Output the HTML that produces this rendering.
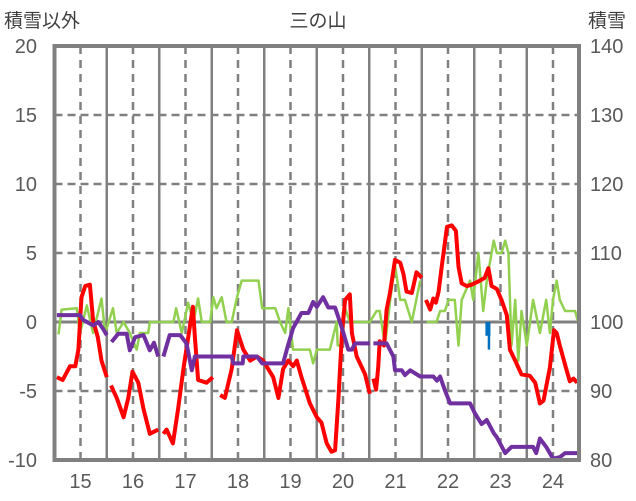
<!DOCTYPE html>
<html><head><meta charset="utf-8"><style>
html,body{margin:0;padding:0;background:#fff;}
svg{display:block;font-family:"Liberation Sans","Noto Sans CJK JP",sans-serif;}
</style></head><body>
<svg id="chart" width="636" height="501" viewBox="0 0 636 501" xmlns="http://www.w3.org/2000/svg">
<text x="4" y="27" font-size="19" fill="#404040">積雪以外</text>
<text x="318" y="27" font-size="19" fill="#404040" text-anchor="middle">三の山</text>
<text x="588" y="27" font-size="19" fill="#404040">積雪</text>
<g id="grid"></g><g id="series"></g><g id="frame"></g><g id="labels"></g>
</svg>
<script>
const dayTicks=[15,16,17,18,19,20,21,22,23,24];
const leftTicks=[-10,-5,0,5,10,15,20];
const rightTicks=[80,90,100,110,120,130,140];
const redT=[14.55,14.66,14.80,14.90,14.96,15.02,15.09,15.18,15.24,15.33,15.40,15.50,null,15.58,15.69,15.82,15.91,15.99,16.10,16.20,16.32,16.48,null,16.58,16.64,16.76,16.86,16.96,17.14,17.18,17.24,17.40,17.52,null,17.66,17.75,17.88,17.98,18.10,18.23,18.36,18.48,18.67,18.77,18.86,18.96,19.05,19.12,19.21,19.37,19.50,19.59,19.69,19.78,19.85,19.91,19.98,20.04,20.13,20.17,20.26,20.36,20.42,20.51,null,20.58,20.63,20.67,20.70,20.78,20.83,20.90,20.99,21.09,21.15,21.21,21.31,21.40,21.50,null,21.58,21.66,21.72,21.77,21.82,21.88,21.98,22.07,22.15,22.20,22.26,22.36,22.45,22.61,22.70,22.77,22.83,22.93,23.02,23.12,23.18,23.28,23.40,23.56,23.66,23.75,23.82,23.94,24.02,24.07,24.13,24.23,24.32,24.39,24.46];
const redV=[-4.0,-4.2,-3.2,-3.2,-2.0,1.8,2.6,2.7,0.1,-1.1,-2.8,-4.0,null,-4.6,-5.5,-6.9,-5.5,-3.6,-4.4,-6.3,-8.1,-7.8,null,-8.1,-7.8,-8.8,-6.3,-3.4,1.1,-1.1,-4.2,-4.4,-4.0,null,-5.3,-5.5,-3.4,-0.6,-2.0,-2.8,-2.5,-2.8,-4.0,-5.5,-3.4,-2.8,-3.2,-2.8,-4.0,-5.9,-6.9,-7.3,-8.8,-9.4,-9.3,-5.7,-0.8,1.6,2.0,-0.8,-2.5,-3.3,-3.8,-5.2,null,-4.1,-4.9,-3.3,-1.4,-1.7,0.9,2.2,4.5,4.3,3.5,2.2,2.1,3.6,3.2,null,1.6,0.9,1.7,1.4,2.2,4.0,6.9,7.0,6.6,4.0,2.8,2.6,2.7,3.0,3.2,3.9,2.6,2.4,1.6,0.5,-2.0,-2.8,-3.8,-3.9,-4.4,-5.9,-5.7,-3.3,-0.6,-0.8,-1.7,-3.1,-4.3,-4.1,-4.4];
const greenT=[14.58,14.64,14.93,14.99,15.12,15.24,15.40,15.47,15.62,15.69,15.82,15.94,16.07,16.13,16.29,16.32,16.77,16.82,16.93,17.05,17.15,17.24,17.31,17.47,17.53,17.59,17.69,17.78,17.88,17.98,18.07,18.39,18.46,18.71,18.80,18.90,18.96,19.05,19.37,19.43,19.50,19.75,19.88,19.90,19.98,20.04,20.13,20.51,20.64,20.70,20.80,20.90,20.99,21.09,21.18,21.31,21.47,null,21.59,21.78,21.85,21.94,22.01,22.13,22.20,22.26,22.42,22.48,22.58,22.67,22.74,22.87,22.93,23.02,23.09,23.15,23.21,23.28,23.34,23.40,23.50,23.62,23.75,23.87,23.94,24.00,24.07,24.13,24.23,24.42,24.48];
const greenV=[-0.9,0.9,1.0,-0.8,1.2,-0.8,1.7,-0.8,1.0,-0.8,0,-0.8,-2.0,-0.8,-0.8,0,0,1.0,-0.8,1.4,0,1.7,0,0,1.8,1.0,1.8,0,0,1.8,3.0,3.0,1.0,1.0,0,-0.8,1.0,-2.0,-2.0,-3.0,-2.0,-2.0,0,-1.7,-1.7,1.0,0,0,0.8,0.8,-1.7,1.6,4.1,1.6,1.6,0,3.0,null,0,0,0.8,0.8,1.6,1.6,-1.7,1.6,3.0,1.6,5.0,0.8,3.0,5.9,5.0,5.0,5.9,5.0,-1.7,1.6,-2.8,0.8,-1.7,1.6,-0.8,1.6,-0.8,1.6,3.0,1.6,0.8,0.8,0];
const snowT=[14.55,14.99,15.05,15.24,15.34,15.43,15.50,null,15.59,15.72,15.88,15.94,16.04,16.20,16.32,16.40,16.48,null,16.58,16.70,16.90,17.02,17.12,17.18,17.88,17.91,18.09,18.10,18.36,18.46,18.67,18.86,18.93,19.05,19.21,19.34,19.43,19.50,19.62,19.72,19.85,19.98,20.10,20.17,20.23,20.51,null,20.58,20.83,20.96,20.99,21.12,21.18,21.28,21.47,21.72,21.79,21.85,21.94,22.04,22.42,22.51,22.64,22.74,22.87,22.93,23.09,23.21,23.62,23.68,23.75,23.87,24.00,24.13,24.23,24.48];
const snowV=[101,101,100.3,99.5,100,99,98.1,null,97.1,98.3,98.3,95.9,97.8,98.1,95.9,97,95,null,95,98.1,98.1,96.9,93,95,95,94,94,95,95,94,94,94,96,99.1,101.3,101.3,102.9,102.2,103.6,102.1,102.1,99.1,96,96,96.9,96.9,null,96.9,96.9,95,93,93,92.3,93,92.1,92.1,91.5,92.1,90.1,88.2,88.2,86.8,85.2,85.8,83.9,83.3,81,81.9,81.9,81,83.1,81.9,80.2,80.4,81,81];
const precipT=[22.76,22.78];
const precipV=[-1.0,-2.0];

const NS='http://www.w3.org/2000/svg';
const L=54.5,R=579,T=46,B=460;
function xs(t){return 80.5+(t-15)*52.5;}
function yl(v){return B-(v+10)*(B-T)/30;}
function yr(v){return B-(v-80)*(B-T)/60;}
function mk(tag,attrs,parent){const e=document.createElementNS(NS,tag);for(const k in attrs)e.setAttribute(k,attrs[k]);parent.appendChild(e);return e;}
const grid=document.getElementById('grid'),ser=document.getElementById('series'),frame=document.getElementById('frame'),lab=document.getElementById('labels');

leftTicks.forEach(v=>{
  const y=yl(v);
  if(v>-10&&v<20){
    const g=mk('line',{x1:L,x2:R,y1:y,y2:y,stroke:'#808080','stroke-width':v===0?3:2.5,'stroke-dasharray':v===0?'none':'8,5'},grid);
    
    
  }
  const t=mk('text',{x:37,y:y+7,'font-size':20,fill:'#595959','text-anchor':'end'},lab);
  t.textContent=v;
  
  
});
rightTicks.forEach(v=>{
  const t=mk('text',{x:590,y:yr(v)+7,'font-size':20,fill:'#595959'},lab);
  t.textContent=v;
  
  
});
dayTicks.forEach(d=>{
  const x=xs(d);
  const g=mk('line',{x1:x,x2:x,y1:T,y2:B,stroke:'#808080','stroke-width':2.5,'stroke-dasharray':'8,6'},grid);
  
  
  if(d<24){
    const s=mk('line',{x1:x+26.25,x2:x+26.25,y1:T,y2:B,stroke:'#808080','stroke-width':2.5},grid);
    
    
  }
  const t=mk('text',{x:x,y:488,'font-size':20,fill:'#595959','text-anchor':'middle'},lab);
  t.textContent=d;
  
  
});

function path(ts,vs,yf){let d='',pen=false;for(let i=0;i<ts.length;i++){if(ts[i]===null||vs[i]===null){pen=false;continue;}d+=(pen?'L':'M')+xs(ts[i]).toFixed(1)+','+yf(vs[i]).toFixed(1);pen=true;}return d;}

precipT.forEach((t,i)=>{
  const w=i===0?5:2.5;const y0=yl(0),y1=yl(precipV[i]);
  const r=mk('rect',{x:xs(t)-w/2,y:Math.min(y0,y1),width:w,height:Math.abs(y1-y0),fill:'#0070c0'},ser);
  
  
});
const g1=mk('path',{d:path(greenT,greenV,yl),fill:'none',stroke:'#92d050','stroke-width':2.5,'stroke-linejoin':'round'},ser);


const r1=mk('path',{d:path(redT,redV,yl),fill:'none',stroke:'#ff0000','stroke-width':4,'stroke-linejoin':'round'},ser);


const p1=mk('path',{d:path(snowT,snowV,yr),fill:'none',stroke:'#7030a0','stroke-width':4,'stroke-linejoin':'round'},ser);



const fr=mk('rect',{x:L,y:T,width:R-L,height:B-T,fill:'none',stroke:'#808080','stroke-width':4},frame);


</script>
</body></html>
